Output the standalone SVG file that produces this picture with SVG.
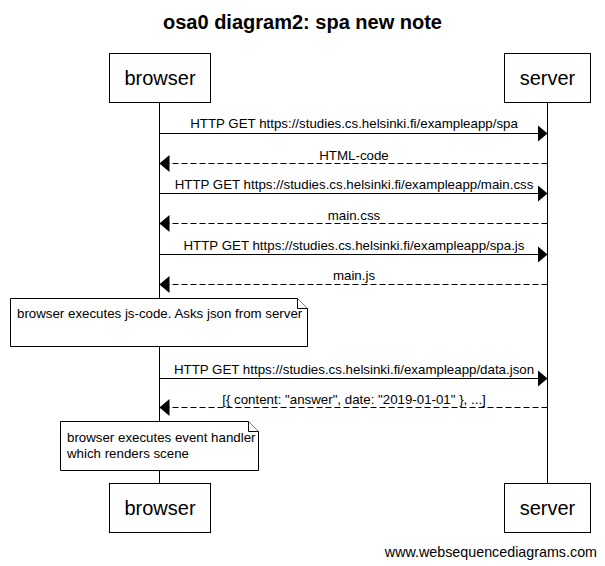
<svg xmlns="http://www.w3.org/2000/svg" width="605" height="566" viewBox="0 0 605 566">
<defs>
<style>
text{font-family:"Liberation Sans",Arial,sans-serif;fill:#000}
.title{font-size:20px;font-weight:bold;text-anchor:middle}
.actor rect{fill:#fff;stroke:#000;stroke-width:1}
.actor text{font-size:20px;text-anchor:middle}
.life{stroke:#000;stroke-width:1}
.msg{stroke:#000;stroke-width:1;fill:none;marker-end:url(#ah)}
.ret{stroke-dasharray:6,3}
.lbl{font-size:13.3px;text-anchor:middle}
.note path{fill:#fff;stroke:#000;stroke-width:1}
.note text{font-size:13.3px}
.wm{font-size:14.3px;text-anchor:end}
</style>
<marker id="ah" markerUnits="userSpaceOnUse" markerWidth="10" markerHeight="17" refX="10" refY="8.5" orient="auto">
<path d="M0,0 L10,8.5 L0,17 Z" fill="#000"/>
</marker>
</defs>
<rect width="605" height="566" fill="#fff"/>
<text class="title" x="302.5" y="29">osa0 diagram2: spa new note</text>
<g id="lifelines">
<line class="life" x1="159.5" y1="102" x2="159.5" y2="483"/>
<line class="life" x1="547.5" y1="102" x2="547.5" y2="483"/>
</g>
<g id="browser" class="actor">
<rect x="109.5" y="53.5" width="101" height="49"/>
<text x="160" y="85">browser</text>
</g>
<g id="server" class="actor">
<rect x="504.5" y="53.5" width="86" height="49"/>
<text x="547.5" y="85">server</text>
</g>
<g id="browser-bottom" class="actor">
<rect x="109.5" y="483.5" width="101" height="49"/>
<text x="160" y="515">browser</text>
</g>
<g id="server-bottom" class="actor">
<rect x="504.5" y="483.5" width="86" height="49"/>
<text x="547.5" y="515">server</text>
</g>
<g id="connectors">
<line class="msg" x1="159.5" y1="133.5" x2="547.5" y2="133.5"/>
<text class="lbl" x="354" y="128">HTTP GET https://studies.cs.helsinki.fi/exampleapp/spa</text>
<line class="msg ret" x1="547.5" y1="163.5" x2="159.5" y2="163.5"/>
<text class="lbl" x="354" y="160">HTML-code</text>
<line class="msg" x1="159.5" y1="193.5" x2="547.5" y2="193.5"/>
<text class="lbl" x="354" y="189">HTTP GET https://studies.cs.helsinki.fi/exampleapp/main.css</text>
<line class="msg ret" x1="547.5" y1="223.5" x2="159.5" y2="223.5"/>
<text class="lbl" x="354" y="220">main.css</text>
<line class="msg" x1="159.5" y1="254.5" x2="547.5" y2="254.5"/>
<text class="lbl" x="354" y="250">HTTP GET https://studies.cs.helsinki.fi/exampleapp/spa.js</text>
<line class="msg ret" x1="547.5" y1="284.5" x2="159.5" y2="284.5"/>
<text class="lbl" x="354" y="280">main.js</text>
<line class="msg" x1="159.5" y1="378.5" x2="547.5" y2="378.5"/>
<text class="lbl" x="354" y="374">HTTP GET https://studies.cs.helsinki.fi/exampleapp/data.json</text>
<line class="msg ret" x1="547.5" y1="407.5" x2="159.5" y2="407.5"/>
<text class="lbl" x="354" y="404">[{ content: "answer", date: "2019-01-01" }, ...]</text>
</g>
<g id="note1" class="note">
<path d="M10.5,298.5 H297.5 L307.5,308.5 V346.5 H10.5 Z"/>
<path d="M297.5,298.5 V308.5 H307.5" fill="none"/>
<text x="17" y="318">browser executes js-code. Asks json from server</text>
</g>
<g id="note2" class="note">
<path d="M60.5,421.5 H248.5 L258.5,431.5 V470.5 H60.5 Z"/>
<path d="M248.5,421.5 V431.5 H258.5" fill="none"/>
<text x="67" y="442">browser executes event handler</text>
<text x="67" y="458">which renders scene</text>
</g>
<text class="wm" x="597" y="557">www.websequencediagrams.com</text>
</svg>
